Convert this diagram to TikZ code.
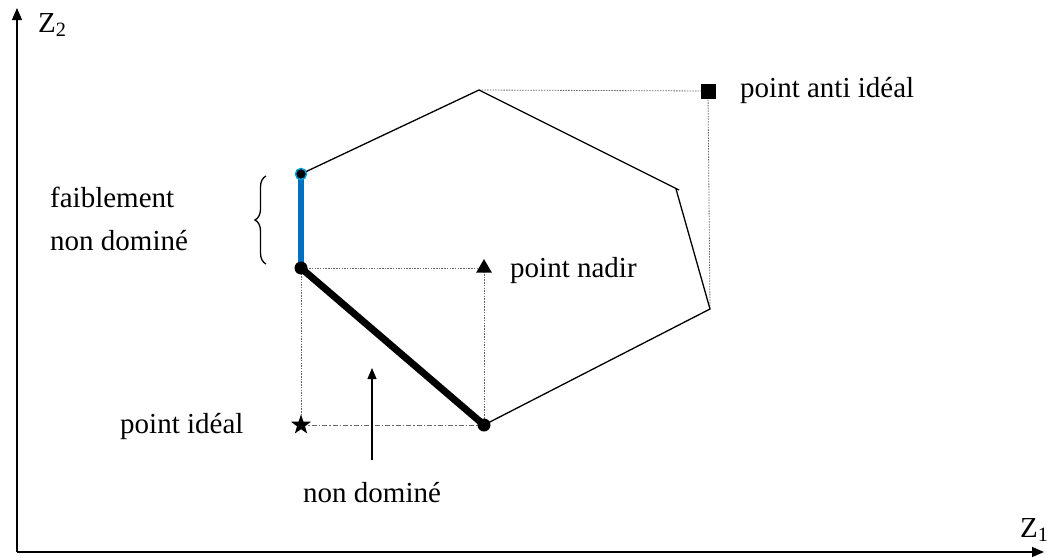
\documentclass[tikz,border=0pt]{standalone}
\usepackage{fontspec}
\setmainfont{Liberation Serif}
\usetikzlibrary{arrows.meta,decorations.pathreplacing,shapes.geometric}
\definecolor{segblue}{RGB}{0,112,192}
\begin{document}
\begin{tikzpicture}[x=1pt,y=-1pt,
  font=\fontsize{29}{34}\selectfont,
  lbl/.style={inner sep=0pt},
  edge/.style={line width=1.3pt},
  guide/.style={line width=0.8pt, gray!80!black, dash pattern=on 1.5pt off 1.2pt},
  dashdot/.style={line width=0.8pt, gray!80!black, dash pattern=on 5pt off 2pt on 1.5pt off 2pt},
  axis/.style={line width=1.2pt, -{Triangle[length=12pt,width=10pt]}},
  dot/.style={circle, fill=black, inner sep=0pt, minimum size=#1},
]
\useasboundingbox (0,0) rectangle (1047,557);
% axes
\coordinate (O) at (17,552);
\coordinate (Ytop) at (17,8);
\coordinate (Xend) at (1044,552);
\draw[axis] (O) -- (Ytop);
\draw[axis] (O) -- (Xend);
\node[lbl, anchor=base west] (z2) at (38,32) {Z\textsubscript{2}};
\node[lbl, anchor=base west] (z1) at (1020,537) {Z\textsubscript{1}};
% polygon vertices
\coordinate (A) at (301,174);
\coordinate (B) at (479,90);
\coordinate (C1) at (679,190);
\coordinate (C2) at (676,189);
\coordinate (D) at (710,309);
\coordinate (E) at (484,425);
\coordinate (F) at (301,268);
\coordinate (N) at (484,268);
\coordinate (S) at (301,425);
\coordinate (Q) at (708,91);
% guides
\draw[guide] (F) -- (N) -- (E);
\draw[guide] (F) -- (S);
\draw[dashdot] (S) -- (E);
\draw[guide] (B) -- (Q) -- (D);
% edges
\draw[edge] (A) -- (B) -- (C1);
\draw[edge] (C2) -- (D) -- (E);
\draw[line width=7pt, line cap=round] (E) -- (F);
\draw[line width=6pt, segblue] (F) -- (A);
% markers
\node[circle, fill=black, draw=segblue!70!cyan, line width=1.5pt, inner sep=0pt, minimum size=11pt] (a) at (A) {};
\node[dot=13pt] (f) at (F) {};
\node[dot=13pt] (e) at (E) {};
\node[star, star points=5, star point ratio=2.5, fill=black, inner sep=0pt, minimum size=21pt] (s) at (S) {};
\node[regular polygon, regular polygon sides=3, fill=black, inner sep=0pt, minimum size=18pt] (n) at (N) {};
\node[rectangle, fill=black, inner sep=0pt, minimum size=15pt] (q) at (Q) {};
% arrow for non dominé
\coordinate (arrS) at (372,460);
\coordinate (arrT) at (372,368);
\draw[line width=1.2pt, -{Triangle[length=11pt,width=9pt]}] (arrS) -- (arrT);
% brace
\draw[line width=1.3pt, decorate, decoration={brace, amplitude=11pt, mirror}] (266,176) -- (266,264);
% labels
\node[lbl, anchor=base west] (lanti) at (740,97) {point anti idéal};
\node[lbl, anchor=base west] (lnadir) at (510,277) {point nadir};
\node[lbl, anchor=base west] (lideal) at (120,433) {point idéal};
\node[lbl, anchor=base west] (lnd) at (303,502) {non dominé};
\node[lbl, anchor=base west] (lf1) at (50,207) {faiblement};
\node[lbl, anchor=base west] (lf2) at (50,250) {non dominé};
\end{tikzpicture}
\end{document}
